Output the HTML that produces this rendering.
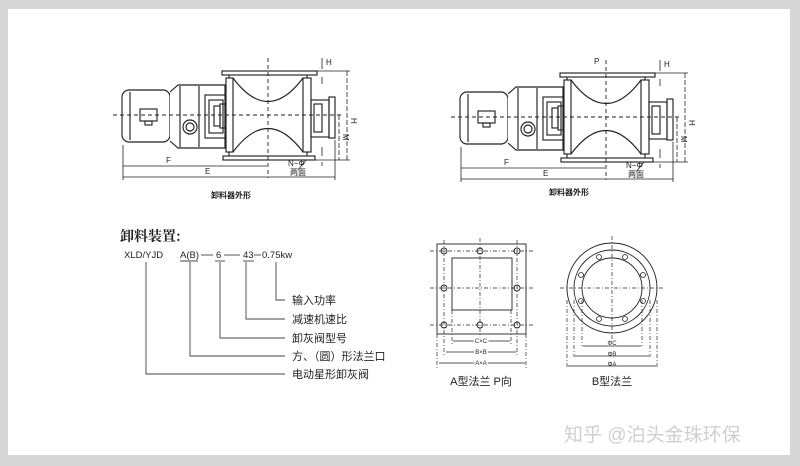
<!DOCTYPE html>
<html><head><meta charset="utf-8"><style>
html,body{margin:0;padding:0;background:#d6d6d6;}
svg{display:block}
text{font-family:"Liberation Sans","Noto Sans CJK SC",sans-serif;fill:#222}
</style></head><body>
<svg width="800" height="466" viewBox="0 0 800 466" xmlns="http://www.w3.org/2000/svg">
<rect x="0" y="0" width="800" height="466" fill="#d6d6d6"/>
<rect x="8" y="9" width="782" height="446" fill="#fff"/>
<defs>
<g id="feeder" stroke="#222" fill="none" stroke-width="1.15">
  <rect x="122" y="90" width="48" height="52" rx="7" fill="#fff"/>
  <line x1="130" y1="92" x2="130" y2="140"/>
  <rect x="140" y="109" width="17" height="12"/>
  <rect x="145" y="121" width="7" height="4"/>
  <path d="M170 92 L178 85 L225 85 L225 148 L178 148 L170 141" fill="#fff"/>
  <line x1="180" y1="86" x2="180" y2="147"/>
  <line x1="199" y1="86" x2="199" y2="147"/>
  <circle cx="190" cy="127" r="7"/>
  <circle cx="190" cy="127" r="4"/>
  <rect x="205" y="95" width="21" height="43"/>
  <rect x="209" y="100" width="14" height="33"/>
  <rect x="214" y="106" width="6" height="20"/>
  <rect x="220" y="104" width="5" height="24"/>
  <rect x="226" y="78" width="7" height="74" fill="#fff"/>
  <rect x="303" y="78" width="8" height="74" fill="#fff"/>
  <path d="M233 78 Q268 125 303 78"/>
  <path d="M233 152 Q268 105 303 152"/>
  <rect x="222" y="71" width="95" height="4"/>
  <rect x="223" y="156" width="92" height="4"/>
  <line x1="229" y1="75" x2="229" y2="78"/>
  <line x1="307" y1="75" x2="307" y2="78"/>
  <line x1="229" y1="152" x2="229" y2="156"/>
  <line x1="307" y1="152" x2="307" y2="156"/>
  <rect x="311" y="100" width="18" height="37"/>
  <rect x="314" y="104" width="8" height="28"/>
  <rect x="329" y="97" width="6" height="41"/>
  <line x1="113" y1="115" x2="342" y2="115" stroke-dasharray="4 3" stroke-width="0.9"/>
  <line x1="268" y1="58" x2="268" y2="178" stroke-dasharray="4 3" stroke-width="0.9"/>
  <line x1="123" y1="145" x2="123" y2="180" stroke-width="0.8"/>
  <line x1="335" y1="140" x2="335" y2="180" stroke-width="0.8"/>
  <line x1="123" y1="166" x2="267" y2="166" stroke-width="0.8"/>
  <line x1="123" y1="177" x2="335" y2="177" stroke-width="0.8"/>
  <line x1="317" y1="71" x2="350" y2="71" stroke-width="0.8"/>
  <line x1="315" y1="160" x2="350" y2="160" stroke-width="0.8"/>
  <line x1="347" y1="71" x2="347" y2="160" stroke-width="0.8" stroke-dasharray="5 2"/>
  <line x1="339" y1="115" x2="339" y2="160" stroke-width="0.8" stroke-dasharray="5 2"/>
  <line x1="322" y1="58" x2="322" y2="69" stroke-width="0.8"/>
  <line x1="322" y1="77" x2="322" y2="84" stroke-width="0.8"/>
  <line x1="322" y1="147" x2="322" y2="156" stroke-width="0.8"/>
  <line x1="322" y1="162" x2="322" y2="166" stroke-width="0.8"/>
  <line x1="306" y1="160" x2="298" y2="170" stroke-width="0.8"/>
</g>
</defs>
<use href="#feeder"/>
<use href="#feeder" transform="translate(338,2)"/>
<g font-size="8">
<text x="166" y="163">F</text><text x="205" y="174">E</text>
<text x="288" y="166">N−Φ</text><text x="290" y="175">两面</text>
<text x="326" y="65">H</text><text x="351" y="118" transform="rotate(90 351 118)">H</text>
<text x="343" y="134" transform="rotate(90 343 134)">M</text>
<text x="504" y="165">F</text><text x="543" y="176">E</text>
<text x="626" y="168">N−Φ</text><text x="628" y="177">两面</text>
<text x="664" y="67">H</text><text x="689" y="120" transform="rotate(90 689 120)">H</text>
<text x="681" y="136" transform="rotate(90 681 136)">M</text>
<text x="594" y="64">P</text>
<text x="231" y="198" text-anchor="middle" font-weight="bold">卸料器外形</text>
<text x="569" y="195" text-anchor="middle" font-weight="bold">卸料器外形</text>
</g>
<text x="120" y="241" font-size="14" font-weight="bold" style="font-family:'Noto Serif CJK SC',serif">卸料装置:</text>
<g font-size="9.5">
<text x="124" y="258">XLD/YJD</text>
<text x="180" y="258">A(B)</text>
<text x="216" y="258">6</text>
<text x="243" y="258">43</text>
<text x="262" y="258">0.75kw</text>
</g>
<g stroke="#444" stroke-width="0.9" fill="none">
<line x1="201" y1="255" x2="213" y2="255"/><line x1="224" y1="255" x2="240" y2="255"/><line x1="254" y1="255" x2="261" y2="255"/>
<line x1="180" y1="261" x2="198" y2="261"/><line x1="215" y1="261" x2="225" y2="261"/><line x1="243" y1="261" x2="254" y2="261"/>
<path d="M146 262 V374 H285"/>
<path d="M190 262 V356 H285"/>
<path d="M220 262 V338 H285"/>
<path d="M246 262 V319 H285"/>
<path d="M276 262 V300 H285"/>
</g>
<g font-size="11">
<text x="292" y="304">输入功率</text>
<text x="292" y="323">减速机速比</text>
<text x="292" y="342">卸灰阀型号</text>
<text x="292" y="360">方、（圆）形法兰口</text>
<text x="292" y="378">电动星形卸灰阀</text>
</g>
<g stroke="#222" fill="none" stroke-width="0.9">
<rect x="437" y="244" width="89" height="90"/>
<rect x="452" y="258" width="60" height="52"/>
<g stroke-dasharray="4 2 1 2" stroke-width="0.7">
<line x1="430" y1="251" x2="534" y2="251"/><line x1="430" y1="288" x2="534" y2="288"/><line x1="430" y1="325" x2="534" y2="325"/>
<line x1="444" y1="240" x2="444" y2="356"/><line x1="480" y1="238" x2="480" y2="338"/><line x1="517" y1="240" x2="517" y2="356"/>
<line x1="452" y1="310" x2="452" y2="345"/><line x1="511" y1="310" x2="511" y2="345"/>
<line x1="437" y1="334" x2="437" y2="368"/><line x1="526" y1="334" x2="526" y2="368"/>
</g>
<circle cx="444" cy="251" r="3"/><circle cx="480" cy="251" r="3"/><circle cx="517" cy="251" r="3"/>
<circle cx="444" cy="288" r="3"/><circle cx="517" cy="288" r="3"/>
<circle cx="444" cy="325" r="3"/><circle cx="480" cy="325" r="3"/><circle cx="517" cy="325" r="3"/>
<line x1="453" y1="341" x2="510" y2="341" stroke-width="0.7"/>
<line x1="446" y1="352" x2="516" y2="352" stroke-width="0.7"/>
<line x1="439" y1="363" x2="525" y2="363" stroke-width="0.7"/>
</g>
<g font-size="6" text-anchor="middle" style="paint-order:stroke" stroke="#fff" stroke-width="3">
<text x="481" y="343">C×C</text><text x="481" y="354">B×B</text><text x="481" y="365">A×A</text>
<text x="612" y="345">ΦC</text><text x="612" y="356">ΦB</text><text x="612" y="366">ΦA</text>
</g>
<text x="481" y="385" font-size="11" text-anchor="middle">A型法兰  P向</text>
<g stroke="#222" fill="none" stroke-width="0.9">
<circle cx="612" cy="288" r="45"/><circle cx="612" cy="288" r="38"/><circle cx="612" cy="288" r="30"/>
<g stroke-dasharray="4 2 1 2" stroke-width="0.7">
<line x1="560" y1="288" x2="665" y2="288"/><line x1="612" y1="236" x2="612" y2="340"/>
<line x1="567" y1="300" x2="567" y2="368"/><line x1="657" y1="300" x2="657" y2="368"/>
<line x1="574" y1="300" x2="574" y2="357"/><line x1="650" y1="300" x2="650" y2="357"/>
<line x1="582" y1="300" x2="582" y2="346"/><line x1="642" y1="300" x2="642" y2="346"/>
</g>
<g stroke-width="0.8">
<circle cx="625" cy="257" r="2.5"/><circle cx="643" cy="275" r="2.5"/><circle cx="643" cy="301" r="2.5"/><circle cx="625" cy="319" r="2.5"/>
<circle cx="599" cy="319" r="2.5"/><circle cx="581" cy="301" r="2.5"/><circle cx="581" cy="275" r="2.5"/><circle cx="599" cy="257" r="2.5"/>
</g>
<line x1="583" y1="346" x2="641" y2="346" stroke-width="0.7"/>
<line x1="575" y1="356" x2="649" y2="356" stroke-width="0.7"/>
<line x1="568" y1="366" x2="656" y2="366" stroke-width="0.7"/>
</g>
<text x="612" y="385" font-size="11" text-anchor="middle">B型法兰</text>
<text x="564" y="441" font-size="19" style="fill:#cfcfcf">知乎 @泊头金珠环保</text>
</svg>
</body></html>
